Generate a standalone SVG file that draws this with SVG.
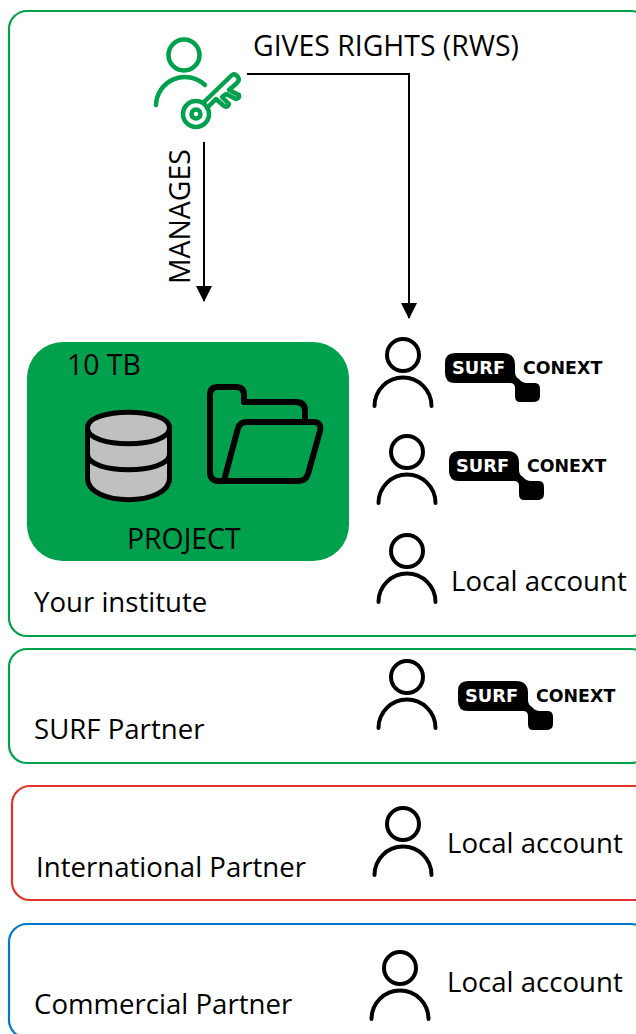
<svg xmlns="http://www.w3.org/2000/svg" width="636" height="1034" viewBox="0 0 636 1034">
<style>
text{font-family:"Open Sans","Noto Sans","Liberation Sans",sans-serif;font-size:27.600px;fill:#000}
.caps{font-size:28.400px}
.box{fill:#fff;stroke-width:2.200}
.line{fill:none;stroke:#000;stroke-width:2}
.p{fill:none;stroke:#000;stroke-width:4;stroke-linecap:round}
.s{font-family:"DejaVu Sans",sans-serif;font-size:17.800px;font-weight:700;fill:#fff}
.c{font-family:"DejaVu Sans",sans-serif;font-size:17.400px;font-weight:700}
.ic{stroke:#000;stroke-width:5;stroke-linejoin:round}
.g{fill:none;stroke:#00a04d;stroke-width:4.500;stroke-linejoin:round;stroke-linecap:round}
</style>
<defs>
<marker id="arrow" viewBox="0 0 16 16" refX="15" refY="8" markerWidth="16" markerHeight="16" markerUnits="userSpaceOnUse" orient="auto"><path d="M0 0L16 8L0 16Z" fill="#000"/></marker>
<g id="person"><circle cx="0" cy="-1" r="16" class="p"/><path class="p" d="M-28.500 50A28.500 28.500 0 0 1 28.500 50"/></g>
<path id="logo" d="M10 0H58Q70 0 70 12V19Q70 24 74 26Q77 30 82 30H90Q95 30 95 36V43Q95 49 88 49H75Q70 49 70 43V35Q70 30 65 30H10Q0 30 0 20V10Q0 0 10 0Z" fill="#000"/>
</defs>
<rect width="636" height="1034" fill="#fff"/>
<g id="institute"><rect class="box" x="9" y="11" width="640" height="625" rx="18" stroke="#00a04d"/><text x="34" y="612">Your institute</text></g>
<g id="surf-partner"><rect class="box" x="9" y="649" width="640" height="114" rx="18" stroke="#00a04d"/><text x="34" y="739">SURF Partner</text></g>
<g id="international-partner"><rect class="box" x="12" y="786" width="640" height="114" rx="18" stroke="#e0352b"/><text x="36" y="877">International Partner</text></g>
<g id="commercial-partner"><rect class="box" x="9" y="924" width="640" height="114" rx="18" stroke="#0077c8"/><text x="34" y="1014">Commercial Partner</text></g>
<g id="connectors">
<path class="line" marker-end="url(#arrow)" d="M204 142V301"/>
<path class="line" marker-end="url(#arrow)" d="M247 74H409V318"/>
</g>
<g id="admin">
<circle class="g" cx="184" cy="55" r="15.500"/>
<path class="g" d="M156 105A29 29 0 0 1 205 85"/>
<circle class="g" cx="196" cy="114" r="13"/>
<circle class="g" cx="196" cy="114" r="4.500" stroke-width="3.500"/>
<path class="g" d="M204 102L232 75Q235 73 238 77Q240 80 237 83L229 90L239 95Q240 98 236 99L226 94L222 97L229 104Q228 108 224 106L216 99L207 108"/>
</g>
<g id="gives-rights-label"><text class="caps" x="253" y="56">GIVES RIGHTS (RWS)</text></g>
<g id="manages-label"><text class="caps" transform="translate(190 284) rotate(-90)">MANAGES</text></g>
<g id="project">
<rect x="27" y="342" width="322" height="219" rx="36" fill="#00a04d"/>
<text class="caps" x="67" y="375">10 TB</text>
<text class="caps" x="127" y="549">PROJECT</text>
<path class="ic" fill="#c0c0c0" d="M87.500 428V478C87.500 507 169.500 507 169.500 478V428C169.500 407 87.500 407 87.500 428Z"/>
<path class="ic" fill="none" d="M87.500 428C87.500 449 169.500 449 169.500 428M87.500 454C87.500 475 169.500 475 169.500 454"/>
<path class="ic" fill="none" style="stroke-width:6" d="M222 481H219Q210 481 210 472V395Q210 387 218 387H236Q244 387 244 395V402H296Q305 402 305 411V422M222 481Q224 481 225 477L238 428Q240 422 247 422H313Q322 422 320 431L308 474Q306 481 298 481Z"/>
</g>
<g id="user-1"><use href="#person" x="403" y="356"/><use href="#logo" x="445" y="353"/><text class="s" x="452" y="374">SURF</text><text class="c" x="523" y="374">CONEXT</text></g>
<g id="user-2"><use href="#person" x="407" y="453"/><use href="#logo" x="449" y="451"/><text class="s" x="456" y="472">SURF</text><text class="c" x="527" y="472">CONEXT</text></g>
<g id="user-3"><use href="#person" x="407" y="552"/><text x="451" y="591">Local account</text></g>
<g id="user-4"><use href="#person" x="407" y="678"/><use href="#logo" x="458" y="681"/><text class="s" x="465" y="702">SURF</text><text class="c" x="536" y="702">CONEXT</text></g>
<g id="user-5"><use href="#person" x="403" y="825"/><text x="447" y="853">Local account</text></g>
<g id="user-6"><use href="#person" x="400" y="969"/><text x="447" y="992">Local account</text></g>
</svg>
